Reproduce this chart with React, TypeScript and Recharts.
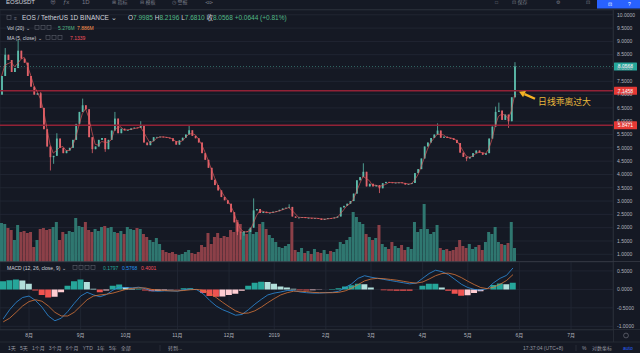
import React from 'react';
import {
  ComposedChart,
  Bar,
  Line,
  XAxis,
  YAxis,
  CartesianGrid,
  ReferenceLine,
  ReferenceDot,
  Cell,
} from 'recharts';

// 2-day candles from 2018-07-14, close prices
const CLOSES = [
  7.7, 8.5, 8.3, 7.85, 8.0, 8.65, 8.35, 8.2, 7.7, 7.3,
  7.0, 7.05, 6.5, 5.7, 5.05, 4.65, 4.7, 5.35, 5.0, 4.8,
  4.9, 5.0, 5.3, 5.9, 6.35, 6.6, 6.45, 5.4, 4.95, 5.05,
  5.3, 5.37, 4.95, 5.3, 5.65, 6.1, 5.55, 5.72, 5.67, 5.67,
  5.73, 5.76, 5.75, 5.85, 5.2, 5.1, 5.25, 5.4, 5.41, 5.42,
  5.4, 5.38, 5.36, 5.25, 5.12, 5.28, 5.38, 5.5, 5.66, 5.45,
  5.36, 5.2, 4.8, 4.55, 4.25, 3.8, 3.6, 3.4, 3.15, 3.03,
  2.9, 2.58, 2.2, 1.85, 1.82, 1.86, 1.84, 2.0, 2.65, 2.7,
  2.55, 2.6, 2.55, 2.56, 2.6, 2.62, 2.67, 2.72, 2.75, 2.78,
  2.42, 2.37, 2.38, 2.4, 2.36, 2.37, 2.35, 2.36, 2.34, 2.29,
  2.33, 2.36, 2.35, 2.38, 2.42, 2.76, 2.82, 2.9, 3.0, 3.28,
  3.78, 3.9, 4.1, 3.55, 3.65, 3.55, 3.6, 3.48, 3.67, 3.72,
  3.7, 3.68, 3.69, 3.7, 3.68, 3.62, 3.64, 3.68, 4.05, 4.2,
  4.6, 5.05, 5.2, 5.37, 5.5, 5.65, 5.38, 5.42, 5.37, 5.36,
  5.3, 5.18, 4.82, 4.66, 4.6, 4.66, 4.8, 4.9, 4.82, 4.74,
  4.8, 5.35, 5.8, 6.35, 6.4, 6.05, 6.25, 6.0, 6.9, 8.06,
];
const FIRST_OPEN = 7.0;

// notable wicks: [candle index, price]
const HIGH_WICKS = [
  [1, 8.75], [5, 9.05], [6, 8.6], [12, 7.1], [17, 5.55], [25, 6.85], [35, 6.35],
  [43, 6.0], [58, 5.85], [78, 3.1], [89, 2.88], [112, 4.42], [135, 5.92],
  [153, 6.55], [154, 6.7], [159, 8.22],
];
const LOW_WICKS = [
  [15, 4.15], [16, 4.4], [28, 4.8], [32, 4.85], [73, 1.72], [74, 1.55], [75, 1.7],
  [117, 3.3], [144, 4.5], [157, 5.75],
];

// volume, millions
const VOLUMES = [
  19.5, 19, 17, 16, 11, 18.5, 15, 15.5, 14.5, 15,
  7.5, 11, 16.5, 17, 16, 16.5, 17.5, 20, 11, 15,
  14, 15.5, 15, 22, 18, 17.5, 20, 16, 15, 16.5,
  15.5, 17.5, 18, 17, 17.5, 15, 14.5, 15.5, 14, 17.5,
  16.5, 16, 17, 16.5, 14, 12.5, 11, 10, 12, 9,
  6, 5, 4.5, 5, 4, 3.5, 4, 5, 6, 4.5,
  4, 5, 8.5, 7.5, 14.5, 9, 12.5, 14.5, 12, 13,
  12.5, 16, 15, 21, 19, 15, 14, 16.5, 14, 15,
  19, 20, 16.5, 13.5, 12, 10, 7.5, 7, 8, 9,
  20, 6, 5, 7, 4.5, 5.5, 4, 6.5, 5, 4.5,
  6, 4, 5.5, 5, 6.5, 10, 9, 11, 12.5, 25,
  22.5, 20, 19, 14, 12.5, 11, 12, 18.5, 9, 7.5,
  6.5, 10, 8, 7, 8.5, 6, 7.5, 6.5, 20, 15,
  16.5, 29, 16.5, 14, 15, 18.5, 7, 6, 6.5, 5.5,
  6, 7.5, 11, 8, 7, 9, 6.5, 7.5, 8.5, 6,
  10, 15, 14, 17.5, 10, 9, 8.5, 9.5, 20, 7,
];

// MACD (12, 26, close, 9), one value per 4 days
const MACD_LINE = [
  -0.8, -0.55, -0.35, -0.22, -0.18, -0.3, -0.48, -0.72, -0.85, -0.78,
  -0.6, -0.38, -0.18, -0.08, -0.15, -0.2, -0.14, -0.02, 0.06, 0.05,
  0.04, 0.06, 0.02, -0.04, -0.05, -0.04, -0.04, -0.05, -0.01, 0.01,
  -0.01, -0.12, -0.3, -0.45, -0.55, -0.62, -0.7, -0.68, -0.55, -0.4,
  -0.27, -0.15, -0.1, -0.07, -0.03, -0.03, -0.07, -0.09, -0.1, -0.1,
  -0.09, -0.08, -0.05, 0.05, 0.15, 0.3, 0.37, 0.33, 0.3, 0.27,
  0.24, 0.21, 0.18, 0.15, 0.17, 0.3, 0.43, 0.52, 0.48, 0.4,
  0.27, 0.14, 0.05, 0.0, -0.02, 0.02, 0.18, 0.3, 0.38, 0.58,
];
const SIGNAL_LINE = [
  -0.88, -0.78, -0.62, -0.45, -0.33, -0.28, -0.32, -0.45, -0.62, -0.72,
  -0.72, -0.62, -0.45, -0.28, -0.18, -0.15, -0.13, -0.1, -0.05, 0.0,
  0.03, 0.04, 0.04, 0.0, -0.02, -0.03, -0.04, -0.04, -0.03, -0.01,
  0.0, -0.03, -0.1, -0.22, -0.35, -0.47, -0.58, -0.65, -0.64, -0.58,
  -0.48, -0.36, -0.25, -0.15, -0.09, -0.05, -0.05, -0.06, -0.08, -0.09,
  -0.09, -0.09, -0.08, -0.04, 0.03, 0.13, 0.23, 0.28, 0.3, 0.29,
  0.27, 0.25, 0.22, 0.19, 0.17, 0.2, 0.28, 0.37, 0.43, 0.44,
  0.4, 0.32, 0.22, 0.13, 0.05, 0.02, 0.06, 0.14, 0.24, 0.4,
];
const MACD_HIST = [
  0.22, 0.25, 0.27, 0.24, 0.15, -0.03, -0.15, -0.22, -0.2, -0.08,
  0.1, 0.22, 0.27, 0.2, 0.02, -0.08, -0.03, 0.1, 0.13, 0.06,
  0.02, 0.02, -0.03, -0.05, -0.04, -0.02, -0.01, -0.01, 0.03, 0.03,
  -0.01, -0.1, -0.18, -0.2, -0.19, -0.15, -0.12, -0.04, 0.1, 0.18,
  0.21, 0.2, 0.15, 0.08, 0.05, 0.02, -0.02, -0.03, -0.02, -0.01,
  0.0, 0.01, 0.03, 0.08, 0.11, 0.15, 0.14, 0.05, 0.0, -0.02,
  -0.03, -0.04, -0.04, -0.04, 0.0, 0.1, 0.15, 0.15, 0.05, -0.04,
  -0.12, -0.17, -0.16, -0.1, -0.05, 0.0, 0.12, 0.16, 0.14, 0.18,
];

const PRICE_TICKS = [1, 1.5, 2, 2.5, 3, 3.5, 4, 4.5, 5, 5.5, 6, 6.5, 7, 7.5, 8, 8.5, 9, 9.5, 10];
const MACD_TICKS = [-1, -0.5, 0, 0.5];
const MONTH_LABELS = ['8月', '9月', '10月', '11月', '12月', '2019', '2月', '3月', '4月', '5月', '6月', '7月'];
const MONTH_SLOTS = [9, 24, 39, 55, 70, 85, 101, 115, 130, 145, 161, 176];
const MONTH_SLOTS_MACD = [4, 12, 19, 27, 35, 42, 50, 57, 65, 72, 80, 88];
const LEVELS = [7.1458, 5.8471];
const LAST_PRICE = 8.0568;

const PRICE_SLOTS = 190;
const MACD_SLOTS = 95;

const BG = '#151924';
const GRID = '#232836';
const AXIS_TXT = '#b2b5be';
const UP = '#5cbcab';
const DOWN = '#e2626a';
const FONT = "'Liberation Sans', Arial, 'Noto Sans CJK SC', sans-serif";

const priceData = Array.from({ length: PRICE_SLOTS }, (_, i) => {
  if (i >= CLOSES.length) return { i };
  const close = CLOSES[i];
  const open = i === 0 ? FIRST_OPEN : CLOSES[i - 1];
  const hw = HIGH_WICKS.find((w) => w[0] === i);
  const lw = LOW_WICKS.find((w) => w[0] === i);
  const high = Math.max(open, close, hw ? hw[1] : -Infinity);
  const low = Math.min(open, close, lw ? lw[1] : Infinity);
  const win = CLOSES.slice(Math.max(0, i - 2), i + 1);
  const ma = win.reduce((a, b) => a + b, 0) / win.length;
  return { i, open, close, high, low, range: [low, high], vol: VOLUMES[i], ma };
});

const macdData = Array.from({ length: MACD_SLOTS }, (_, j) =>
  j < MACD_LINE.length
    ? { j, macd: MACD_LINE[j], signal: SIGNAL_LINE[j], hist: MACD_HIST[j] }
    : { j }
);

const histColor = (j: number) => {
  const h = MACD_HIST[j];
  const prev = j > 0 ? MACD_HIST[j - 1] : h;
  if (h >= 0) return h >= prev ? '#26a69a' : '#b2dfdb';
  return h <= prev ? '#ef5350' : '#ffcdd2';
};

const Candle = (props: any) => {
  const { x, y, width, height, payload } = props;
  if (!payload || payload.open == null) return null;
  const { open, close, high, low } = payload;
  const span = high - low || 1;
  const toY = (v: number) => y + ((high - v) / span) * height;
  const color = close >= open ? UP : DOWN;
  const cx = x + width / 2;
  const top = toY(Math.max(open, close));
  const bot = toY(Math.min(open, close));
  return (
    <g>
      <line x1={cx} x2={cx} y1={y} y2={y + height} stroke={color} strokeWidth={0.8} />
      <rect x={cx - 0.9} y={top} width={1.8} height={Math.max(bot - top, 0.8)} fill={color} />
    </g>
  );
};

const PriceTag = ({ viewBox, text, color }: any) => {
  if (!viewBox) return null;
  const x = viewBox.x + viewBox.width + 1;
  const y = viewBox.y;
  return (
    <g>
      <rect x={x} y={y - 4} width={23} height={8} fill={color} rx={0.6} />
      <text x={x + 11.5} y={y + 1.8} fontSize={5} fill="#ffffff" textAnchor="middle" fontFamily={FONT}>
        {text}
      </text>
    </g>
  );
};

const Callout = ({ cx, cy }: any) => {
  if (cx == null || cy == null) return null;
  return (
    <g>
      <line x1={cx + 9.9} y1={cy + 3.4} x2={cx + 20.4} y2={cy + 8} stroke="#f5b324" strokeWidth={2.4} />
      <path
        d={`M${cx + 4.5},${cy + 1} L${cx + 11.3},${cy + 0.2} L${cx + 8.5},${cy + 6.6} Z`}
        fill="#f5b324"
      />
      <text x={cx + 23.5} y={cy + 14.5} fontSize={8.8} fill="#e9b83c" fontFamily="'Noto Sans CJK SC', sans-serif">
        日线乖离过大
      </text>
    </g>
  );
};

const Squares = ({ x, y, n }: { x: number; y: number; n: number }) => (
  <g>
    {Array.from({ length: n }, (_, k) => (
      <rect key={k} x={x + k * 6} y={y - 4} width={4} height={4} fill="none" stroke="#5d606b" strokeWidth={0.6} />
    ))}
  </g>
);

const Overlay = () => (
  <svg width={640} height={353} style={{ position: 'absolute', left: 0, top: 0 }} fontFamily={FONT}>
    {/* top toolbar */}
    <text x={6} y={4} fontSize={6} fill="#d1d4dc">EOSUSDT</text>
    <text x={50} y={4} fontSize={6} fill="#787b86">⊕</text>
    <text x={63} y={4} fontSize={6} fill="#787b86">ƒx</text>
    <text x={82} y={4} fontSize={6} fill="#787b86">1D</text>
    <text x={112} y={4} fontSize={5} fill="#787b86">⊞ 指标</text>
    <text x={140} y={4} fontSize={5} fill="#787b86">⊟ 模板</text>
    <text x={172} y={4} fontSize={5} fill="#787b86">◷ 警报</text>
    <text x={205} y={4} fontSize={5} fill="#787b86">⊲⊳</text>
    <text x={495} y={4} fontSize={5} fill="#787b86">□</text>
    <text x={512} y={4} fontSize={5} fill="#787b86">⊡ 保存</text>
    <text x={556} y={4} fontSize={5} fill="#787b86">⚙</text>
    <text x={586} y={4} fontSize={5} fill="#787b86">⊡</text>
    <rect x={597} y={0} width={43} height={8.5} fill="#2962ff" />
    <text x={608} y={6} fontSize={5} fill="#ffffff">⊡</text>
    <text x={628} y={6} fontSize={5} fill="#ffffff">?</text>
    <line x1={0} x2={640} y1={9.5} y2={9.5} stroke="#2a2e39" strokeWidth={0.8} />

    {/* legend rows */}
    <Squares x={7} y={19.5} n={1} />
    <text x={14} y={19.5} fontSize={5} fill="#787b86">≡</text>
    <text x={22} y={19.5} fontSize={6.5} fill="#d1d4dc">EOS / TetherUS  1D  BINANCE ⌄</text>
    <text x={128} y={19.5} fontSize={6.5}>
      <tspan fill="#d1d4dc">O</tspan>
      <tspan fill="#53b987">7.9985 </tspan>
      <tspan fill="#d1d4dc">H</tspan>
      <tspan fill="#53b987">8.2196 </tspan>
      <tspan fill="#d1d4dc">L</tspan>
      <tspan fill="#53b987">7.6810 </tspan>
      <tspan fill="#d1d4dc">收</tspan>
      <tspan fill="#53b987">8.0568 +0.0644 (+0.81%)</tspan>
    </text>
    <text x={7} y={29.5} fontSize={5} fill="#d1d4dc">Vol (20) ⌄</text>
    <Squares x={35} y={29.5} n={3} />
    <text x={58} y={29.5} fontSize={5} fill="#53b987">5.276M</text>
    <text x={77} y={29.5} fontSize={5} fill="#ff9850">7.886M</text>
    <text x={7} y={39.5} fontSize={5} fill="#d1d4dc">MA (5, close) ⌄</text>
    <Squares x={46} y={39.5} n={3} />
    <text x={70} y={39.5} fontSize={5} fill="#f7525f">7.1339</text>

    {/* pane separators */}
    <line x1={613.5} x2={613.5} y1={10} y2={342} stroke="#2a2e39" strokeWidth={0.8} />
    <line x1={0} x2={640} y1={261.5} y2={261.5} stroke="#363a45" strokeWidth={0.8} />
    <line x1={0} x2={640} y1={329.5} y2={329.5} stroke="#2a2e39" strokeWidth={0.8} />
    <line x1={0} x2={640} y1={342} y2={342} stroke="#2a2e39" strokeWidth={0.8} />

    {/* MACD legend */}
    <text x={7} y={269.5} fontSize={5} fill="#d1d4dc">MACD (12, 26, close, 9) ⌄</text>
    <Squares x={73} y={269.5} n={4} />
    <text x={103} y={269.5} fontSize={5} fill="#26a69a">0.1797</text>
    <text x={122} y={269.5} fontSize={5} fill="#2196f3">0.5768</text>
    <text x={141} y={269.5} fontSize={5} fill="#f7525f">0.4001</text>

    {/* bottom bar */}
    <text x={8} y={350} fontSize={5} fill="#9598a1">
      1天{'\u00a0\u00a0\u00a0'}5天{'\u00a0\u00a0\u00a0'}1个月{'\u00a0\u00a0\u00a0'}3个月{'\u00a0\u00a0\u00a0'}6个月{'\u00a0\u00a0\u00a0'}YTD{'\u00a0\u00a0\u00a0'}1年{'\u00a0\u00a0\u00a0'}5年{'\u00a0\u00a0\u00a0'}全部
    </text>
    <line x1={160} x2={160} y1={345} y2={351} stroke="#363a45" strokeWidth={0.6} />
    <text x={168} y={350} fontSize={5} fill="#9598a1">转到...</text>
    <text x={523} y={350} fontSize={5} fill="#9598a1">17:37:04 (UTC+8)</text>
    <line x1={576} x2={576} y1={345} y2={351} stroke="#363a45" strokeWidth={0.6} />
    <text x={582} y={350} fontSize={5} fill="#9598a1">%</text>
    <text x={592} y={350} fontSize={5} fill="#9598a1">对数坐标</text>
    <text x={623} y={350} fontSize={5} fill="#2962ff">auto</text>
    <circle cx={626} cy={335.5} r={2.4} fill="none" stroke="#787b86" strokeWidth={0.6} />
  </svg>
);

export default function App() {
  const tick = { fill: AXIS_TXT, fontSize: 5, fontFamily: FONT };
  return (
    <div
      style={{
        position: 'absolute',
        left: 0,
        top: 0,
        width: 640,
        height: 353,
        background: BG,
        overflow: 'hidden',
      }}
    >
      <div style={{ position: 'absolute', left: 0, top: 0 }}>
        <ComposedChart width={640} height={262} data={priceData} margin={{ top: 10, right: 0, bottom: 0, left: 0 }}>
          <XAxis
            xAxisId="x"
            dataKey="i"
            type="category"
            ticks={MONTH_SLOTS}
            interval={0}
            tick={false}
            axisLine={false}
            tickLine={false}
            height={0}
          />
          <XAxis xAxisId="vx" dataKey="i" type="category" hide />
          <YAxis
            yAxisId="p"
            orientation="right"
            width={27}
            domain={[0.71, 10.18]}
            allowDataOverflow
            ticks={PRICE_TICKS}
            interval={0}
            tickFormatter={(v: number) => v.toFixed(4)}
            tick={tick}
            tickSize={0}
            tickMargin={4}
            axisLine={false}
            tickLine={false}
          />
          <YAxis yAxisId="v" hide domain={[0, 126]} allowDataOverflow />
          <CartesianGrid xAxisId="x" yAxisId="p" stroke={GRID} strokeWidth={0.8} />
          <Bar xAxisId="vx" yAxisId="v" dataKey="vol" barSize={3} isAnimationActive={false}>
            {priceData.map((d: any, k) => (
              <Cell key={k} fill={d.close >= d.open ? '#2f7770' : '#8c4048'} />
            ))}
          </Bar>
          <ReferenceLine
            xAxisId="x"
            yAxisId="p"
            y={LAST_PRICE}
            stroke="#3d8a80"
            strokeDasharray="1 2"
            strokeWidth={0.7}
            label={(p: any) => <PriceTag viewBox={p.viewBox} text={LAST_PRICE.toFixed(4)} color="#26a69a" />}
          />
          {LEVELS.map((lv) => (
            <ReferenceLine
              key={lv}
              xAxisId="x"
              yAxisId="p"
              y={lv}
              stroke="#922236"
              strokeWidth={1.5}
              label={(p: any) => <PriceTag viewBox={p.viewBox} text={lv.toFixed(4)} color="#e53935" />}
            />
          ))}
          <Bar
            xAxisId="x"
            yAxisId="p"
            dataKey="range"
            barSize={2}
            shape={(p: any) => <Candle {...p} />}
            isAnimationActive={false}
          />
          <Line
            xAxisId="x"
            yAxisId="p"
            dataKey="ma"
            dot={false}
            stroke="#e0575b"
            strokeWidth={0.8}
            strokeOpacity={0.85}
            isAnimationActive={false}
          />
          <ReferenceDot
            xAxisId="x"
            yAxisId="p"
            x={CLOSES.length - 1}
            y={LEVELS[0]}
            r={0}
            shape={(p: any) => <Callout {...p} />}
          />
        </ComposedChart>
      </div>

      <div style={{ position: 'absolute', left: 0, top: 262 }}>
        <ComposedChart width={640} height={80} data={macdData} margin={{ top: 0, right: 0, bottom: 0, left: 0 }}>
          <XAxis
            dataKey="j"
            type="category"
            ticks={MONTH_SLOTS_MACD}
            interval={0}
            tickFormatter={(v: number) => MONTH_LABELS[MONTH_SLOTS_MACD.indexOf(v)]}
            tick={{ ...tick, fontFamily: "'Liberation Sans', 'Noto Sans CJK SC', sans-serif" }}
            axisLine={false}
            tickLine={false}
            tickSize={0}
            tickMargin={3}
            height={12}
          />
          <YAxis
            orientation="right"
            width={27}
            domain={[-1.1, 0.742]}
            allowDataOverflow
            ticks={MACD_TICKS}
            interval={0}
            tickFormatter={(v: number) => v.toFixed(4)}
            tick={tick}
            tickSize={0}
            tickMargin={4}
            axisLine={false}
            tickLine={false}
          />
          <CartesianGrid stroke={GRID} strokeWidth={0.8} />
          <Bar dataKey="hist" barSize={6} isAnimationActive={false}>
            {macdData.map((d: any, k) => (
              <Cell key={k} fill={d.hist == null ? 'none' : histColor(k)} />
            ))}
          </Bar>
          <Line dataKey="macd" dot={false} stroke="#2f8fe0" strokeWidth={0.8} isAnimationActive={false} />
          <Line dataKey="signal" dot={false} stroke="#d9763a" strokeWidth={0.8} isAnimationActive={false} />
        </ComposedChart>
      </div>

      <Overlay />
    </div>
  );
}
